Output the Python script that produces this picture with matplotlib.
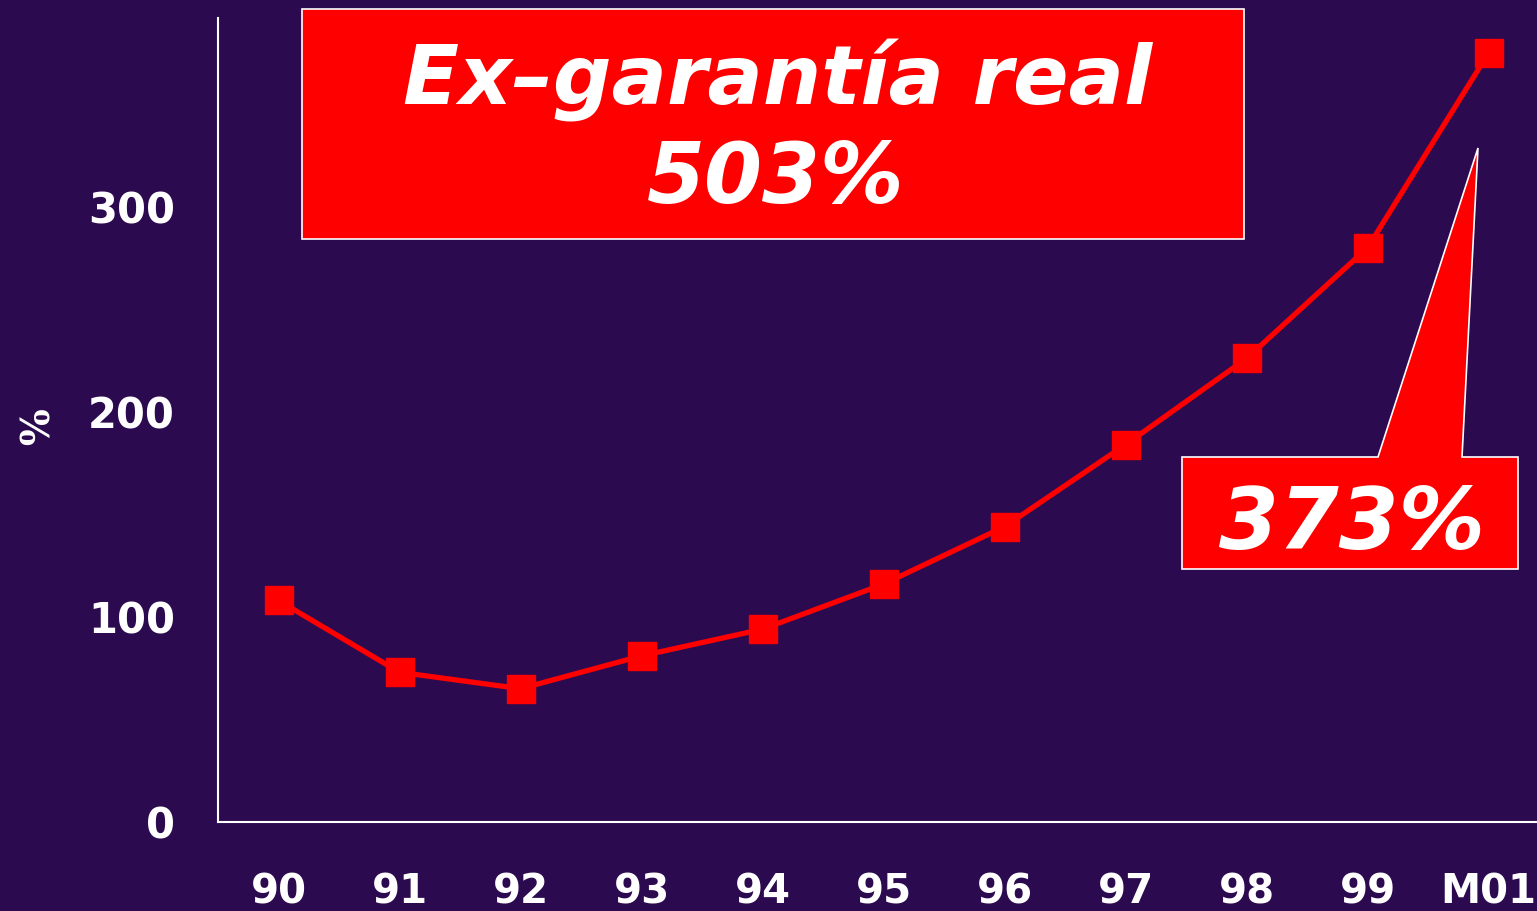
import matplotlib
matplotlib.use("Agg")
import matplotlib.pyplot as plt
from matplotlib.patches import Polygon, Rectangle

years = ["90", "91", "92", "93", "94", "95", "96", "97", "98", "99", "M01"]
values = [108, 73, 65, 81, 94, 116, 144, 184, 226, 280, 375]
yticks = [0, 100, 200, 300]
title_lines = ["Ex\u2013garantía real", "503%"]
callout_text = "373%"

BG = "#2C0A50"
RED = "#FF0000"
W, H = 1537, 911

fig = plt.figure(figsize=(W / 100, H / 100), dpi=100, facecolor=BG)

def fx(x):
    return x / W

def fy(y):
    return 1 - y / H

ax = fig.add_axes([fx(218), fy(822), fx(1537) - fx(218), fy(18) - fy(822)])
ax.set_facecolor(BG)
xs = list(range(len(years)))
ax.plot(xs, values, color=RED, lw=3.8, marker="s", markersize=20,
        markerfacecolor=RED, markeredgecolor=RED, clip_on=False, zorder=3)
ax.set_xlim(-0.5, 10.4)
ax.set_ylim(0, 392)
ax.set_xticks(xs)
ax.set_xticklabels(years)
ax.set_yticks(yticks)
ax.set_yticklabels([str(v) for v in yticks])
for s in ["top", "right"]:
    ax.spines[s].set_visible(False)
for s in ["left", "bottom"]:
    ax.spines[s].set_color("white")
    ax.spines[s].set_linewidth(1.5)
ax.tick_params(axis="x", length=0, colors="white", labelsize=29, pad=36)
ax.tick_params(axis="y", length=0, colors="white", labelsize=30, pad=31)
for lab in ax.get_xticklabels() + ax.get_yticklabels():
    lab.set_fontweight("bold")
    lab.set_color("white")
ax.set_ylabel("%", color="white", fontsize=28, fontweight="bold",
              family="DejaVu Serif")
ax.yaxis.set_label_coords(-(218 - 58) / (1537 - 218), (822 - 427) / (822 - 18))

# Title box
fig.patches.append(Rectangle((fx(302), fy(239)), fx(1244) - fx(302), fy(9) - fy(239),
                             transform=fig.transFigure, facecolor=RED,
                             edgecolor="white", lw=1.2, zorder=5))
fig.text(fx(778), fy(81), title_lines[0], transform=fig.transFigure,
         ha="center", va="center", color="white", fontsize=59,
         fontweight="bold", style="italic", zorder=6)
fig.text(fx(776), fy(180), title_lines[1], transform=fig.transFigure,
         ha="center", va="center", color="white", fontsize=60,
         fontweight="bold", style="italic", zorder=6)

# Callout
pts = [(1182, 457), (1378, 457), (1478, 148), (1462, 457), (1518, 457),
       (1518, 569), (1182, 569)]
fig.patches.append(Polygon([(fx(x), fy(y)) for x, y in pts], closed=True,
                           transform=fig.transFigure, facecolor=RED,
                           edgecolor="white", lw=1.2, zorder=5))
fig.text(fx(1352), fy(525), callout_text, transform=fig.transFigure,
         ha="center", va="center", color="white", fontsize=62,
         fontweight="bold", style="italic", zorder=6)

fig.savefig("out.png", dpi=100, facecolor=BG)
